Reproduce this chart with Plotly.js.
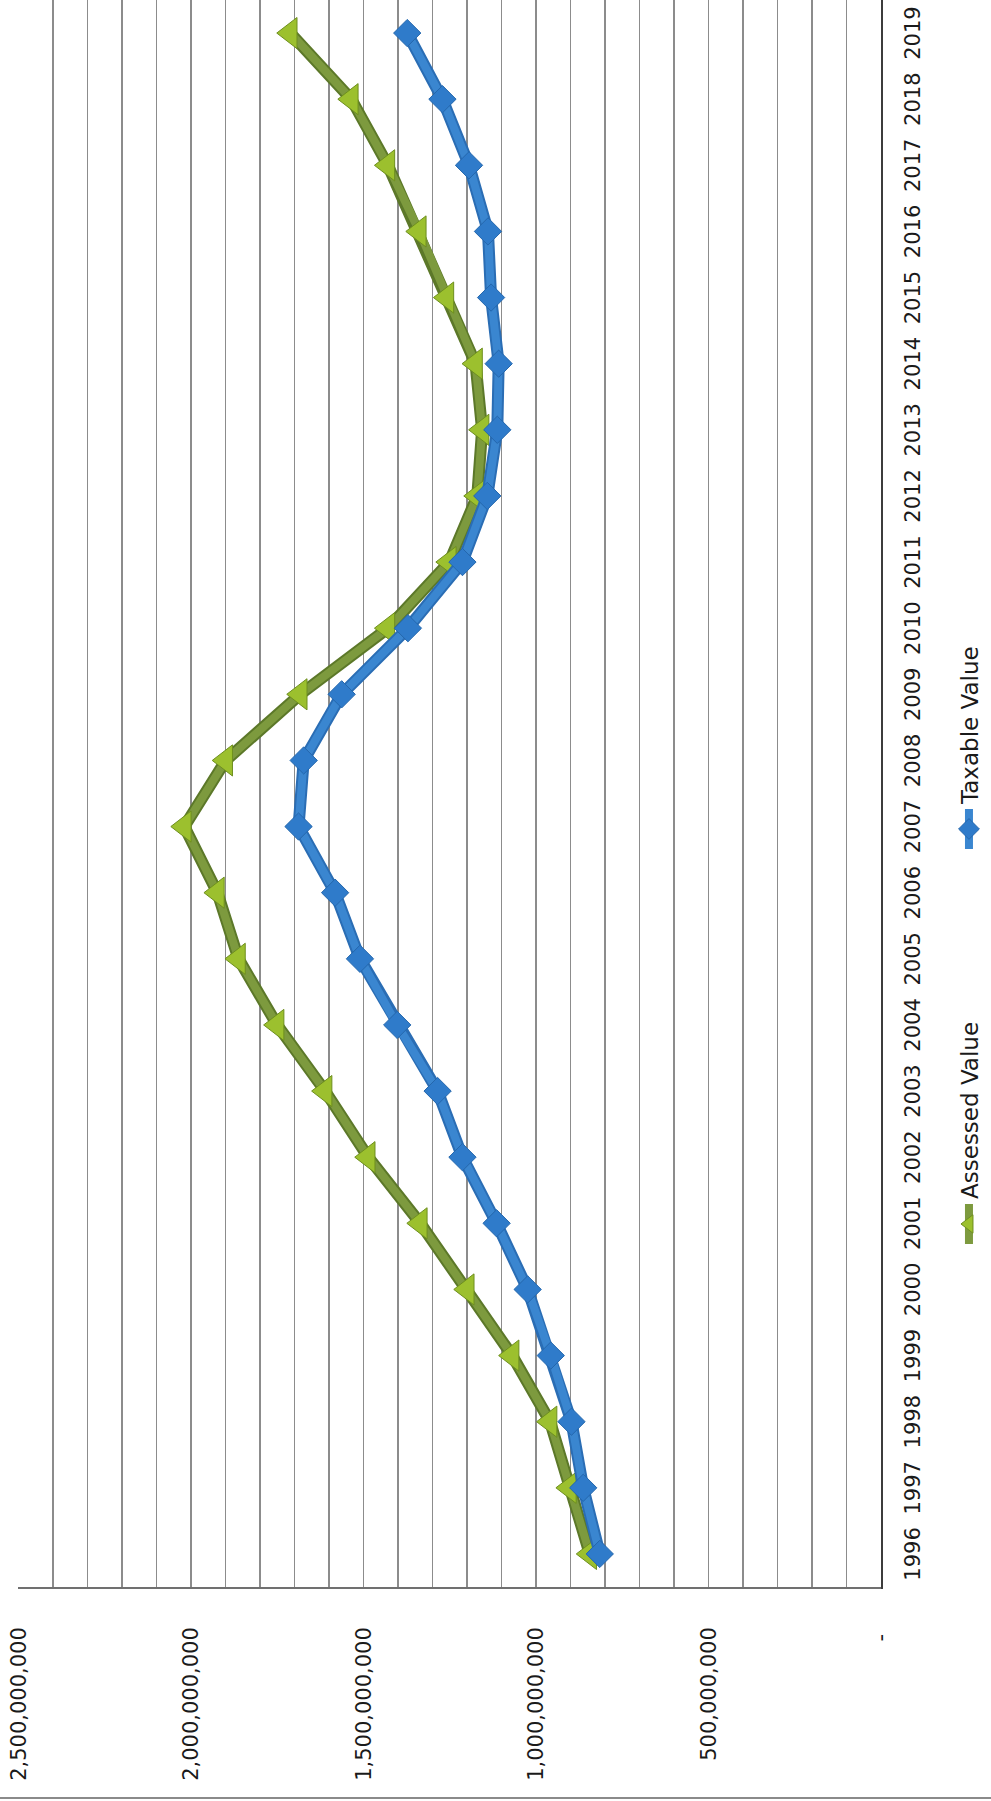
<!DOCTYPE html>
<html>
<head>
<meta charset="utf-8">
<script src="https://cdn.plot.ly/plotly-3.0.1.min.js"></script>
<style>
  html, body { margin: 0; padding: 0; background: #fff; overflow: hidden; width: 991px; height: 1801px; }
  /* The chart is laid out landscape and turned a quarter turn, as on the printed page */
  #frame { position: absolute; left: 0; top: 1801px; width: 1801px; height: 991px;
           transform-origin: 0 0; transform: rotate(-90deg); background: #fff; }
  #chart { position: absolute; left: 0; top: 0; width: 1801px; height: 991px; }
  #edge  { position: absolute; left: 2px; top: 0; width: 2px; height: 991px; background: #8a8a8a; }
</style>
</head>
<body>
<div id="frame"><div id="chart"></div><div id="edge"></div></div>
<script>
// Tax roll history, 1996-2019
const years = ['1996','1997','1998','1999','2000','2001','2002','2003','2004','2005','2006','2007',
               '2008','2009','2010','2011','2012','2013','2014','2015','2016','2017','2018','2019'];

const assessedValue = [844e6, 903e6, 959e6, 1069e6, 1199e6, 1335e6, 1486e6, 1611e6, 1750e6, 1862e6, 1923e6, 2019e6,
                       1899e6, 1683e6, 1429e6, 1251e6, 1170e6, 1156e6, 1175e6, 1258e6, 1338e6, 1429e6, 1535e6, 1712e6];

const taxableValue  = [815e6, 863e6, 897e6, 957e6, 1024e6, 1114e6, 1213e6, 1285e6, 1402e6, 1510e6, 1582e6, 1688e6,
                       1673e6, 1563e6, 1371e6, 1213e6, 1141e6, 1112e6, 1108e6, 1130e6, 1139e6, 1194e6, 1271e6, 1373e6];

const valueTicks = [0, 5e8, 1e9, 1.5e9, 2e9, 2.5e9];
const valueTickLabels = ['-\u00a0', '500,000,000', '1,000,000,000', '1,500,000,000', '2,000,000,000', '2,500,000,000'];
const valueMax = 2.5e9;

const FONT = 'DejaVu Sans, Verdana, sans-serif';

function seriesTraces(name, values, style) {
  const shadow = {
    x: years, y: values, type: 'scatter', mode: 'lines',
    line: { color: style.edge, width: 12 },
    showlegend: false, hoverinfo: 'skip'
  };
  const main = {
    x: years, y: values, type: 'scatter', mode: 'lines+markers', name: name,
    line: { color: style.line, width: 8 },
    marker: { symbol: style.symbol, size: style.size, color: style.fill,
              line: { color: style.outline, width: 1 } }
  };
  return [shadow, main];
}

const data = [
  ...seriesTraces('Assessed Value', assessedValue,
    { line: '#7d9a3e', edge: '#5c7829', symbol: 'triangle-up', size: 27, fill: '#9cc02e', outline: '#6e8f1f' }),
  ...seriesTraces('Taxable Value', taxableValue,
    { line: '#3a86d0', edge: '#2a6db4', symbol: 'diamond', size: 21, fill: '#2f7bca', outline: '#2467ad' })
];

const layout = {
  width: 1801, height: 991,
  margin: { l: 214, r: 0, t: 18, b: 104, pad: 0 },
  paper_bgcolor: '#ffffff', plot_bgcolor: '#ffffff',
  font: { family: FONT, color: '#1a1a1a' },
  showlegend: true,
  legend: {
    orientation: 'h', xanchor: 'left', x: 0.213, yanchor: 'middle', y: -0.102,
    font: { family: FONT, size: 23, color: '#1a1a1a' },
    bgcolor: 'rgba(0,0,0,0)', itemwidth: 40, entrywidth: 340, entrywidthmode: 'pixels'
  },
  xaxis: {
    type: 'category', range: [-0.5, 23.5],
    showgrid: false, zeroline: false,
    showline: true, linecolor: '#3c3c3c', linewidth: 2,
    ticks: '', ticklabelstandoff: 12,
    tickfont: { family: FONT, size: 21, color: '#1a1a1a' }
  },
  yaxis: {
    // a hair above the top tick so its gridline is still drawn
    range: [0, valueMax * 1.0004],
    tickmode: 'array', tickvals: valueTicks, ticktext: valueTickLabels,
    showgrid: true, gridcolor: '#8c8c8c', gridwidth: 1.5,
    minor: { tickmode: 'linear', tick0: 0, dtick: 1e8, showgrid: true, gridcolor: '#8c8c8c', gridwidth: 1.5, ticks: '' },
    zeroline: false,
    showline: true, linecolor: '#707070', linewidth: 2,
    ticks: '', ticklabelstandoff: 34,
    tickfont: { family: FONT, size: 21, color: '#1a1a1a' }
  }
};

Plotly.newPlot('chart', data, layout, { staticPlot: true, displayModeBar: false });
</script>
</body>
</html>
